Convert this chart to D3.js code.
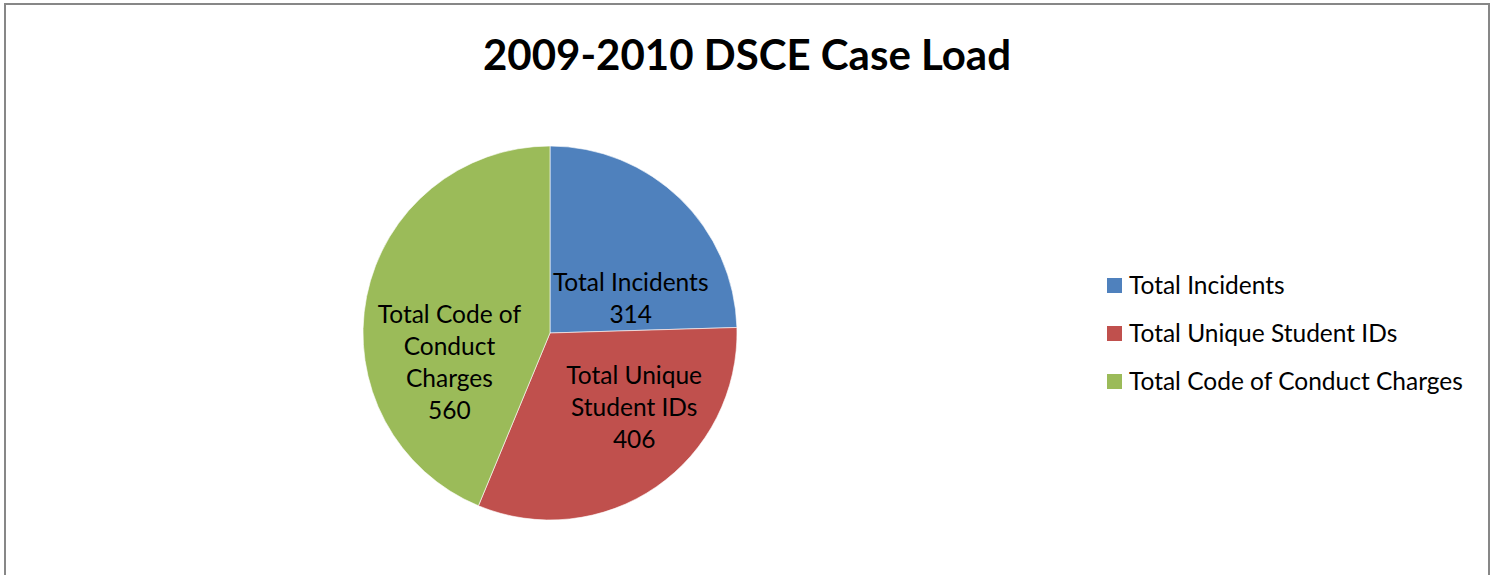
<!DOCTYPE html>
<html>
<head>
<meta charset="utf-8">
<script src="https://cdn.jsdelivr.net/npm/d3@7"></script>
<style>
  body { margin: 0; background: #fff; }
  text { font-family: Lato, "Open Sans", sans-serif; fill: #000; }
</style>
</head>
<body>
<div class="canvas"></div>
<script>
// data
const categories = ['Total Incidents', 'Total Unique Student IDs', 'Total Code of Conduct Charges'];
const values = [314, 406, 560];
// in-slice label lines (Excel wraps them)
const labelLines = [
    ['Total Incidents', '314'],
    ['Total Unique', 'Student IDs', '406'],
    ['Total Code of', 'Conduct', 'Charges', '560']
];
const colors = ['#4F81BD', '#C0504D', '#9BBB59'];

// label placement inside each slice: fraction along slice angle, fraction of radius
const labelPlace = [
    {t: 0.755, r: 0.47},
    {t: 0.377, r: 0.60},
    {t: 0.326, r: 0.56}
];

const width = 1495, height = 575;
const cx = 550, cy = 333, radius = 187;

const svg = d3.select('.canvas').append('svg')
    .attr('width', width)
    .attr('height', height);

// chart border
svg.append('rect')
    .attr('x', 5).attr('y', 4)
    .attr('width', 1484).attr('height', 620)
    .attr('fill', 'none')
    .attr('stroke', '#878787')
    .attr('stroke-width', 2);

// title
svg.append('text')
    .attr('x', 747)
    .attr('y', 70)
    .attr('text-anchor', 'middle')
    .style('font-size', '42px')
    .style('font-weight', 'bold')
    .text('2009-2010 DSCE Case Load');

const data = categories.map((c, i) => ({name: c, value: values[i], lines: labelLines[i], color: colors[i]}));

const pie = d3.pie()
    .value(d => d.value)
    .sort(null);

const arc = d3.arc()
    .innerRadius(0)
    .outerRadius(radius);

const graph = svg.append('g')
    .attr('transform', `translate(${cx}, ${cy})`);

const arcs = pie(data);

graph.selectAll('path')
    .data(arcs)
    .enter().append('path')
    .attr('d', arc)
    .attr('fill', d => d.data.color)
    .attr('stroke', '#fff')
    .attr('stroke-width', 0.6);

// labels
const lineH = 32;
arcs.forEach((d, i) => {
    const p = labelPlace[i];
    const a = d.startAngle + (d.endAngle - d.startAngle) * p.t;
    const r = radius * p.r;
    const x = Math.sin(a) * r;
    const y = -Math.cos(a) * r;
    const n = d.data.lines.length;
    const t = graph.append('text')
        .attr('text-anchor', 'middle')
        .style('font-size', '24.5px');
    d.data.lines.forEach((ln, j) => {
        t.append('tspan')
            .attr('x', x)
            .attr('y', y + (j - (n - 1) / 2) * lineH)
            .attr('dy', '0.35em')
            .text(ln);
    });
});

// legend
const legend = svg.append('g')
    .attr('transform', 'translate(1107, 285)');

const item = legend.selectAll('g')
    .data(data)
    .enter().append('g')
    .attr('transform', (d, i) => `translate(0, ${i * 48})`);

item.append('rect')
    .attr('x', 0).attr('y', -7)
    .attr('width', 15).attr('height', 15)
    .attr('fill', d => d.color);

item.append('text')
    .attr('x', 22)
    .attr('y', 0)
    .attr('dy', '0.35em')
    .style('font-size', '24.5px')
    .text(d => d.name);
</script>
</body>
</html>
